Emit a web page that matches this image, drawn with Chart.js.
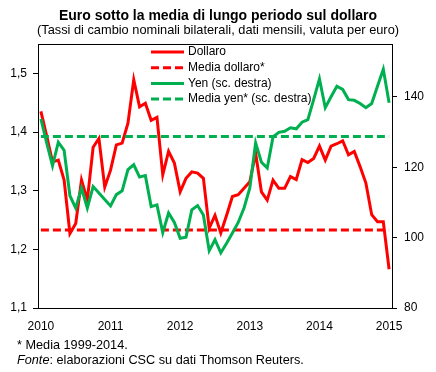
<!DOCTYPE html>
<html lang="it">
<head>
<meta charset="utf-8">
<script src="https://cdn.jsdelivr.net/npm/chart.js@4.4.1/dist/chart.umd.min.js"></script>
<style>
body { margin: 0; background: #fff; }
#box { position: relative; width: 436px; height: 372px; font-family: 'Liberation Sans', Arial, sans-serif; color: #000; }
#grafico { position: absolute; left: 0; top: 0; }
.t { position: absolute; white-space: nowrap; }
#titolo { left: 0; width: 436px; top: 7px; text-align: center; font-size: 14px; line-height: 16px; font-weight: bold; }
#sottotitolo { left: 0; width: 436px; top: 23px; text-align: center; font-size: 12.8px; line-height: 14px; }
#nota { left: 17px; top: 338px; font-size: 12.7px; line-height: 14px; }
#fonte { left: 17px; top: 353px; font-size: 12.7px; line-height: 14px; }
</style>
</head>
<body>
<div id="box">
  <canvas id="grafico" width="436" height="372"></canvas>
  <div class="t" id="titolo">Euro sotto la media di lungo periodo sul dollaro</div>
  <div class="t" id="sottotitolo">(Tassi di cambio nominali bilaterali, dati mensili, valuta per euro)</div>
  <div class="t" id="nota">* Media 1999-2014.</div>
  <div class="t" id="fonte"><i>Fonte</i>: elaborazioni CSC su dati Thomson Reuters.</div>
</div>
<script>
// dati mensili gen 2010 - gen 2015
const anni = ['2010', '2011', '2012', '2013', '2014', '2015'];
const mesi = [];
anni.slice(0, 5).forEach(a => {
    for (let m = 1; m <= 12; m++) mesi.push(a + '-' + String(m).padStart(2, '0'));
});
mesi.push('2015-01');

const dollaro = [1.435, 1.393, 1.349, 1.352, 1.318, 1.227, 1.244, 1.318, 1.284, 1.374,
    1.389, 1.306, 1.335, 1.378, 1.381, 1.415, 1.489, 1.443, 1.449, 1.420,
    1.425, 1.327, 1.367, 1.347, 1.298, 1.321, 1.332, 1.330, 1.321, 1.236,
    1.258, 1.228, 1.258, 1.290, 1.293, 1.304, 1.315, 1.364, 1.298, 1.284,
    1.318, 1.304, 1.304, 1.324, 1.319, 1.353, 1.348, 1.355, 1.376, 1.352,
    1.376, 1.380, 1.385, 1.361, 1.367, 1.341, 1.313, 1.259, 1.247, 1.247,
    1.166];

const yen = [133.7, 126.9, 120.4, 127.1, 124.8, 111.9, 108.4, 114.1, 108.4, 114.5,
    112.7, 110.8, 109.0, 112.2, 113.3, 119.3, 120.7, 117.2, 117.6, 108.8,
    109.3, 101.4, 107.0, 104.3, 99.8, 100.1, 107.9, 109.1, 106.4, 96.3,
    99.4, 95.7, 98.4, 101.3, 104.3, 108.4, 114.1, 126.9, 121.4, 119.8,
    128.6, 129.9, 130.2, 131.2, 130.9, 132.8, 133.5, 139.2, 145.1, 136.9,
    140.0, 143.0, 142.1, 139.2, 139.0, 138.1, 136.9, 138.1, 143.0, 147.8,
    138.3];

const mediaDollaro = 1.233;
const mediaYen = 128.7;

const tickDollaro = [1.1, 1.2, 1.3, 1.4, 1.5];
const tickYen = [80, 100, 120, 140];

const ROSSO = 'rgb(255, 0, 0)';
const VERDE = 'rgb(0, 176, 80)';
const FONT = "'Liberation Sans', Arial, sans-serif";

// legenda dentro l'area del grafico, una voce per riga
const legendaInterna = {
    id: 'legendaInterna',
    afterDatasetsDraw(chart) {
        const ctx = chart.ctx;
        ctx.save();
        ctx.font = '12px ' + FONT;
        ctx.textBaseline = 'middle';
        chart.data.datasets.forEach((ds, i) => {
            const y = 52 + i * 15.7;
            ctx.beginPath();
            ctx.strokeStyle = ds.borderColor;
            ctx.lineWidth = 3;
            ctx.setLineDash(ds.borderDash || []);
            ctx.moveTo(151, y);
            ctx.lineTo(184, y);
            ctx.stroke();
            ctx.setLineDash([]);
            ctx.fillStyle = '#000';
            ctx.fillText(ds.label, 188, y);
        });
        ctx.restore();
    }
};

// bordo superiore del riquadro
const bordoSopra = {
    id: 'bordoSopra',
    afterDraw(chart) {
        const a = chart.chartArea;
        const ctx = chart.ctx;
        ctx.save();
        ctx.strokeStyle = '#000';
        ctx.lineWidth = 1;
        ctx.beginPath();
        ctx.moveTo(a.left, a.top + 0.5);
        ctx.lineTo(a.right, a.top + 0.5);
        ctx.stroke();
        ctx.restore();
    }
};

Chart.defaults.font.family = FONT;
Chart.defaults.font.size = 12;
Chart.defaults.color = '#000';

const ctx = document.getElementById('grafico');
const grafico = new Chart(ctx, {
    type: 'line',
    data: {
        labels: mesi,
        datasets: [{
            label: 'Dollaro',
            data: dollaro,
            yAxisID: 'y',
            borderColor: ROSSO,
            borderWidth: 3,
            pointRadius: 0,
            tension: 0,
            order: 4
        },
        {
            label: 'Media dollaro*',
            data: [{ x: mesi[0], y: mediaDollaro }, { x: mesi[mesi.length - 1], y: mediaDollaro }],
            yAxisID: 'y',
            borderColor: ROSSO,
            borderWidth: 3,
            borderDash: [8, 4],
            pointRadius: 0,
            order: 3
        },
        {
            label: 'Yen (sc. destra)',
            data: yen,
            yAxisID: 'y1',
            borderColor: VERDE,
            borderWidth: 3,
            pointRadius: 0,
            tension: 0,
            order: 2
        },
        {
            label: 'Media yen* (sc. destra)',
            data: [{ x: mesi[0], y: mediaYen }, { x: mesi[mesi.length - 1], y: mediaYen }],
            yAxisID: 'y1',
            borderColor: VERDE,
            borderWidth: 3,
            borderDash: [8, 4],
            pointRadius: 0,
            order: 1
        }]
    },
    options: {
        responsive: false,
        animation: false,
        devicePixelRatio: 1,
        layout: { padding: { top: 44, left: 0, right: 0, bottom: 0 } },
        plugins: {
            legend: { display: false },
            tooltip: { enabled: false }
        },
        scales: {
            x: {
                type: 'category',
                offset: true,
                grid: { display: true, drawOnChartArea: false, drawTicks: false },
                border: { display: true, color: '#000', width: 1 },
                ticks: {
                    autoSkip: false,
                    maxRotation: 0,
                    minRotation: 0,
                    padding: 11,
                    callback: (v, i) => mesi[i].endsWith('-01') ? mesi[i].slice(0, 4) : ''
                },
                afterFit: s => { s.height = 64; }
            },
            y: {
                position: 'left',
                min: 1.1,
                max: 1.55,
                grid: { drawOnChartArea: false, drawTicks: true, tickLength: 5, color: '#000' },
                border: { display: true, color: '#000', width: 1 },
                ticks: {
                    padding: 6,
                    callback: v => v.toFixed(1).replace('.', ',')
                },
                afterBuildTicks: s => { s.ticks = tickDollaro.map(v => ({ value: v })); },
                afterFit: s => { s.width = 38; }
            },
            y1: {
                position: 'right',
                min: 80,
                max: 155,
                grid: { drawOnChartArea: false, drawTicks: true, tickLength: 5, color: '#000' },
                border: { display: true, color: '#000', width: 1 },
                ticks: { padding: 7 },
                afterBuildTicks: s => { s.ticks = tickYen.map(v => ({ value: v })); },
                afterFit: s => { s.width = 44; }
            }
        }
    },
    plugins: [legendaInterna, bordoSopra]
});
</script>
</body>
</html>
